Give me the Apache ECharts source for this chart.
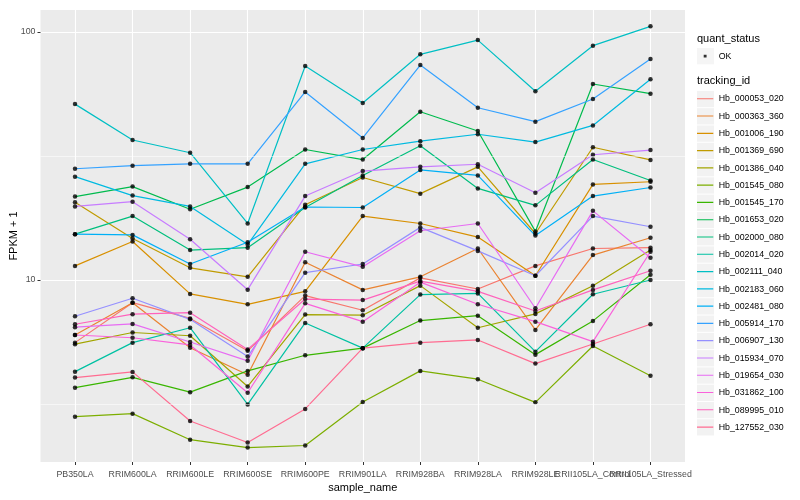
<!DOCTYPE html>
<html><head><meta charset="utf-8">
<script src="https://cdn.jsdelivr.net/npm/echarts@6/dist/echarts.min.js"></script>
<style>html,body{margin:0;padding:0;background:#fff}#c{width:800px;height:500px}</style>
</head><body><div id="c"></div>
<script>
const categories = ['PB350LA','RRIM600LA','RRIM600LE','RRIM600SE','RRIM600PE','RRIM901LA','RRIM928BA','RRIM928LA','RRIM928LE','RRII105LA_Control','RRII105LA_Stressed'];
const trackingIds = ['Hb_000053_020','Hb_000363_360','Hb_001006_190','Hb_001369_690','Hb_001386_040','Hb_001545_080','Hb_001545_170','Hb_001653_020','Hb_002000_080','Hb_002014_020','Hb_002111_040','Hb_002183_060','Hb_002481_080','Hb_005914_170','Hb_006907_130','Hb_015934_070','Hb_019654_030','Hb_031862_100','Hb_089995_010','Hb_127552_030'];
const colors = ['#F8766D','#EA8331','#D89000','#C09B00','#A3A500','#7CAE00','#39B600','#00BB4E','#00BF7D','#00C1A3','#00BFC4','#00BAE0','#00B0F6','#35A2FF','#9590FF','#C77CFF','#E76BF3','#FA62DB','#FF62BC','#FF6C91'];
const yTickValues = [10, 100];

const Hb_000053_020 = [5.59, 8.1, 7.0, 5.18, 8.65, 7.55, 10.2, 9.2, 11.4, 13.4, 13.5];
const Hb_000363_360 = [6.0, 8.1, 5.33, 4.15, 11.8, 9.12, 10.3, 13.4, 6.29, 12.6, 14.8];
const Hb_001006_190 = [11.4, 14.3, 8.79, 7.98, 9.0, 18.1, 16.9, 14.9, 10.4, 24.3, 24.9];
const Hb_001369_690 = [20.6, 14.7, 11.2, 10.3, 20.1, 25.9, 22.3, 28.6, 15.4, 34.3, 30.5];
const Hb_001386_040 = [5.51, 6.14, 5.96, 3.72, 7.25, 7.21, 9.49, 6.42, 7.3, 9.48, 13.2];
const Hb_001545_080 = [2.81, 2.89, 2.27, 2.11, 2.15, 3.22, 4.30, 3.98, 3.21, 5.42, 4.11];
const Hb_001545_170 = [3.68, 4.05, 3.53, 4.3, 4.97, 5.31, 6.86, 7.18, 5.0, 6.84, 10.5];
const Hb_001653_020 = [21.7, 23.8, 19.3, 23.7, 33.6, 30.6, 47.7, 39.9, 15.7, 61.7, 56.4];
const Hb_002000_080 = [15.3, 18.1, 13.2, 13.5, 19.6, 26.4, 34.8, 23.4, 20.0, 30.6, 25.2];
const Hb_002014_020 = [4.27, 5.59, 6.42, 3.15, 6.71, 5.31, 8.73, 8.83, 5.14, 8.76, 10.0];
const Hb_002111_040 = [51.2, 36.7, 32.6, 16.9, 72.9, 51.7, 81.3, 92.8, 57.7, 88.1, 105.4];
const Hb_002183_060 = [26.1, 21.9, 19.8, 13.9, 29.4, 33.6, 36.3, 38.7, 36.0, 42.0, 64.5];
const Hb_002481_080 = [15.3, 15.2, 11.6, 14.2, 19.7, 19.6, 27.8, 26.4, 15.1, 21.8, 23.6];
const Hb_005914_170 = [28.1, 28.9, 29.4, 29.4, 57.3, 37.4, 73.6, 49.5, 43.5, 53.7, 77.9];
const Hb_006907_130 = [7.14, 8.44, 6.94, 4.91, 10.7, 11.6, 16.3, 13.1, 10.4, 18.1, 16.4];
const Hb_015934_070 = [19.8, 20.7, 14.6, 9.14, 21.8, 27.5, 28.6, 29.3, 22.5, 32.0, 33.4];
const Hb_019654_030 = [6.45, 6.65, 5.62, 4.72, 13.0, 11.3, 15.8, 16.9, 7.69, 19.0, 12.3];
const Hb_031862_100 = [6.0, 5.85, 5.47, 3.51, 8.05, 6.79, 9.8, 7.98, 6.79, 5.64, 13.0];
const Hb_089995_010 = [6.63, 7.28, 7.38, 5.25, 8.38, 8.30, 9.9, 9.0, 7.5, 9.12, 10.9];
const Hb_127552_030 = [4.04, 4.26, 2.70, 2.21, 3.02, 5.31, 5.59, 5.73, 4.60, 5.52, 6.63];

const seriesValues = [Hb_000053_020, Hb_000363_360, Hb_001006_190, Hb_001369_690, Hb_001386_040, Hb_001545_080, Hb_001545_170, Hb_001653_020, Hb_002000_080, Hb_002014_020, Hb_002111_040, Hb_002183_060, Hb_002481_080, Hb_005914_170, Hb_006907_130, Hb_015934_070, Hb_019654_030, Hb_031862_100, Hb_089995_010, Hb_127552_030];

const FONT = 'Liberation Sans';
const X_MIN = -0.6, X_MAX = categories.length - 1 + 0.6;
const catIdx = categories.map((c, i) => i);
const labelIdx = [X_MIN].concat(catIdx, [X_MAX]);

const lineSeries = trackingIds.map((id, i) => ({
  name: id, type: 'line', z: 2, silent: true,
  symbol: 'none', showSymbol: false,
  data: seriesValues[i].map((v, j) => [j, v]),
  lineStyle: { width: 1.2, color: colors[i] },
  itemStyle: { color: colors[i] }
}));

const allPoints = [];
seriesValues.forEach(arr => arr.forEach((v, j) => allPoints.push([j, v])));

const minorGrid = {
  name: '_minor', type: 'line', z: 1, silent: true, symbol: 'none',
  data: [[0, 10]], lineStyle: { opacity: 0 },
  markLine: {
    silent: true, symbol: ['none', 'none'], animation: false,
    label: { show: false },
    lineStyle: { color: '#ffffff', width: 0.55, type: 'solid' },
    data: [{ yAxis: Math.sqrt(10) }, { yAxis: Math.sqrt(1000) }]
  }
};

const pointSeries = {
  name: 'OK', type: 'scatter', z: 3, silent: true,
  symbol: 'circle', symbolSize: 4.5,
  itemStyle: { color: '#000000' },
  data: allPoints
};

const linePath = 'path://M0,0L0.001,0M0,7.6L17,7.6L17,8.8L0,8.8ZM17,17L16.999,17';
const dotPath = 'path://M0,0L0.001,0M7,7L10,7L10,10L7,10ZM17,17L16.999,17';

const keyBase = { orient: 'vertical', left: 697, itemWidth: 17, itemHeight: 16.28, itemGap: 1, padding: 0, selectedMode: false };

const option = {
  animation: false,
  textStyle: { fontFamily: FONT },
  title: [
    { text: 'quant_status', left: 697, top: 33, padding: 0, textStyle: { fontSize: 11, fontWeight: 'normal', color: '#000', fontFamily: FONT } },
    { text: 'tracking_id', left: 697, top: 75, padding: 0, textStyle: { fontSize: 11, fontWeight: 'normal', color: '#000', fontFamily: FONT } }
  ],
  legend: [
    Object.assign({}, keyBase, { top: 48, z: 3, data: ['OK'], icon: 'rect', itemStyle: { color: '#F2F2F2', borderWidth: 0 }, formatter: () => '', textStyle: { fontSize: 1 } }),
    Object.assign({}, keyBase, { top: 48, z: 4, data: ['OK'], icon: dotPath, itemStyle: { color: '#000', borderWidth: 0 }, textStyle: { fontSize: 8.8, color: '#000', fontFamily: FONT } }),
    Object.assign({}, keyBase, { top: 90.9, z: 3, data: trackingIds, icon: 'rect', itemStyle: { color: '#F2F2F2', borderWidth: 0 }, formatter: () => '', textStyle: { fontSize: 1 } }),
    Object.assign({}, keyBase, { top: 90.9, z: 4, data: trackingIds, icon: linePath, itemStyle: { borderWidth: 0 }, textStyle: { fontSize: 8.8, color: '#000', fontFamily: FONT } })
  ],
  grid: { left: 40.5, right: 115, top: 10, bottom: 38, show: true, backgroundColor: '#EBEBEB', borderWidth: 0, containLabel: false, outerBoundsMode: 'none' },
  xAxis: {
    type: 'value', min: X_MIN, max: X_MAX, minInterval: 1, maxInterval: 1,
    name: 'sample_name', nameLocation: 'middle', nameGap: 20, nameMoveOverlap: false,
    nameTextStyle: { fontSize: 11, color: '#000', fontFamily: FONT },
    axisLine: { show: false, onZero: false },
    axisTick: { show: true, length: 3, lineStyle: { color: '#333333' }, customValues: catIdx },
    axisLabel: {
      customValues: labelIdx, hideOverlap: false,
      formatter: v => (Math.abs(v - Math.round(v)) < 1e-6 && categories[Math.round(v)]) ? categories[Math.round(v)] : '',
      fontSize: 8.8, color: '#4D4D4D', margin: 8, fontFamily: FONT
    },
    splitLine: { show: true, lineStyle: { color: '#ffffff', width: 1.1 } }
  },
  yAxis: {
    type: 'log', logBase: 10, min: 1.845, max: 122.7,
    name: 'FPKM + 1', nameLocation: 'middle', nameGap: 21, nameRotate: 90, nameMoveOverlap: false,
    nameTextStyle: { fontSize: 11, color: '#000', fontFamily: FONT },
    axisLine: { show: false, onZero: false },
    axisTick: { show: true, length: 3, lineStyle: { color: '#333333' }, customValues: yTickValues },
    axisLabel: { customValues: yTickValues, hideOverlap: false, fontSize: 8.8, color: '#4D4D4D', margin: 5, fontFamily: FONT },
    splitLine: { show: true, lineStyle: { color: '#ffffff', width: 1.1 } },
    minorSplitLine: { show: false }
  },
  series: [minorGrid].concat(lineSeries, [pointSeries])
};

const chart = echarts.init(document.getElementById('c'), null, { renderer: 'canvas' });
chart.setOption(option);
</script>
</body></html>
